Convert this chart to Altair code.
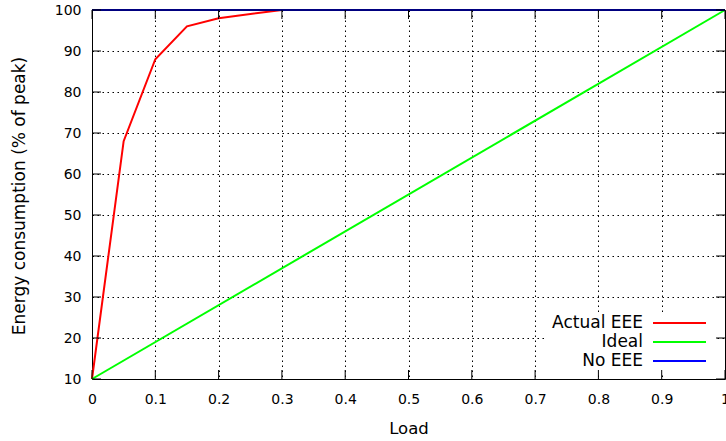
import altair as alt
import pandas as pd

# Energy consumption vs. load for three link configurations
actual_load = [0.0, 0.05, 0.1, 0.15, 0.2, 0.3, 1.0]
actual_eee = [10, 68, 88, 96, 98, 100, 100]
ideal_load = [0.0, 1.0]
ideal = [10, 100]
no_eee_load = [0.0, 1.0]
no_eee = [100, 100]

series_names = ["Actual EEE", "Ideal", "No EEE"]
series_colors = ["#ff0000", "#00ff00", "#0000ff"]

x_ticks = [0, 0.1, 0.2, 0.3, 0.4, 0.5, 0.6, 0.7, 0.8, 0.9, 1]
y_ticks = [10, 20, 30, 40, 50, 60, 70, 80, 90, 100]

W, H = 633, 369
FONT = "DejaVu Sans"
TICK_LEN = 9

rows = []
for name, xs, ys in zip(series_names,
                        [actual_load, ideal_load, no_eee_load],
                        [actual_eee, ideal, no_eee]):
    for x, y in zip(xs, ys):
        rows.append({"series": name, "load": x, "energy": y})
df = pd.DataFrame(rows)

x_scale = alt.Scale(domain=[0, 1], nice=False, zero=False)
y_scale = alt.Scale(domain=[10, 100], nice=False, zero=False)

x_axis = alt.Axis(
    values=x_ticks, format="~g", grid=True, ticks=False, domain=False,
    gridColor="black", gridDash=[1.5, 3.5], gridOpacity=1, gridWidth=1,
    labelFont=FONT, labelFontSize=14, labelColor="black", labelPadding=13,
    labelFlush=False, labelOverlap=False,
    title="Load", titleFont=FONT, titleFontSize=16.5, titleFontWeight="normal",
    titleColor="black", titleX=W / 2, titleY=49, titleBaseline="middle",
    titleAlign="center",
)
y_axis = alt.Axis(
    values=y_ticks, grid=True, ticks=False, domain=False,
    gridColor="black", gridDash=[1.5, 3.5], gridOpacity=1, gridWidth=1,
    labelFont=FONT, labelFontSize=14, labelColor="black", labelPadding=11,
    labelFlush=False, labelOverlap=False,
    title="Energy consumption (% of peak)", titleFont=FONT, titleFontSize=17,
    titleFontWeight="normal", titleColor="black", titleX=-73, titleY=185.5,
    titleAngle=270, titleBaseline="middle", titleAlign="center",
)

lines = alt.Chart(df).mark_line(strokeWidth=2, clip=False).encode(
    x=alt.X("load:Q", scale=x_scale, axis=x_axis),
    y=alt.Y("energy:Q", scale=y_scale, axis=y_axis),
    color=alt.Color("series:N",
                    scale=alt.Scale(domain=series_names, range=series_colors),
                    legend=None),
    order=alt.Order("load:Q"),
)

# Opaque key background hiding the grid behind the key
key_df = pd.DataFrame({"k": [0]})
key_box = alt.Chart(key_df).mark_rect(color="white").encode(
    x=alt.value(452), x2=alt.value(623), y=alt.value(303), y2=alt.value(362))

# Inward, mirrored tick marks
xt = pd.DataFrame({"t": x_ticks})
yt = pd.DataFrame({"t": y_ticks})
tick_bottom = alt.Chart(xt).mark_rule(color="black", strokeWidth=1).encode(
    x=alt.X("t:Q", scale=x_scale), y=alt.value(H), y2=alt.value(H - TICK_LEN))
tick_top = alt.Chart(xt).mark_rule(color="black", strokeWidth=1).encode(
    x=alt.X("t:Q", scale=x_scale), y=alt.value(0), y2=alt.value(TICK_LEN))
tick_left = alt.Chart(yt).mark_rule(color="black", strokeWidth=1).encode(
    y=alt.Y("t:Q", scale=y_scale), x=alt.value(0), x2=alt.value(TICK_LEN))
tick_right = alt.Chart(yt).mark_rule(color="black", strokeWidth=1).encode(
    y=alt.Y("t:Q", scale=y_scale), x=alt.value(W), x2=alt.value(W - TICK_LEN))

# Border frame drawn over the data
frame_top = alt.Chart(key_df).mark_rule(color="black", strokeWidth=1).encode(
    x=alt.value(0), x2=alt.value(W), y=alt.value(0))

# Key in the lower right corner: label then line sample
legend_y = [313, 332, 351]
legend_layers = []
for name, color, ly in zip(series_names, series_colors, legend_y):
    ldf = pd.DataFrame({"label": [name]})
    legend_layers.append(
        alt.Chart(ldf).mark_text(align="right", baseline="middle", font=FONT,
                                 fontSize=17, color="black").encode(
            text="label:N", x=alt.value(551), y=alt.value(ly)))
    legend_layers.append(
        alt.Chart(ldf).mark_rule(color=color, strokeWidth=2).encode(
            x=alt.value(561), x2=alt.value(614), y=alt.value(ly)))

chart = alt.layer(
    key_box, lines, tick_bottom, tick_top, tick_left, tick_right, frame_top,
    *legend_layers,
).properties(
    width=W, height=H,
    autosize=alt.AutoSizeParams(type="none"),
    padding={"left": 92, "top": 10, "right": 1, "bottom": 62},
    background="white",
).configure_view(stroke="black", strokeWidth=1)

chart.save("out.html", embed_options={"renderer": "svg", "actions": False})
